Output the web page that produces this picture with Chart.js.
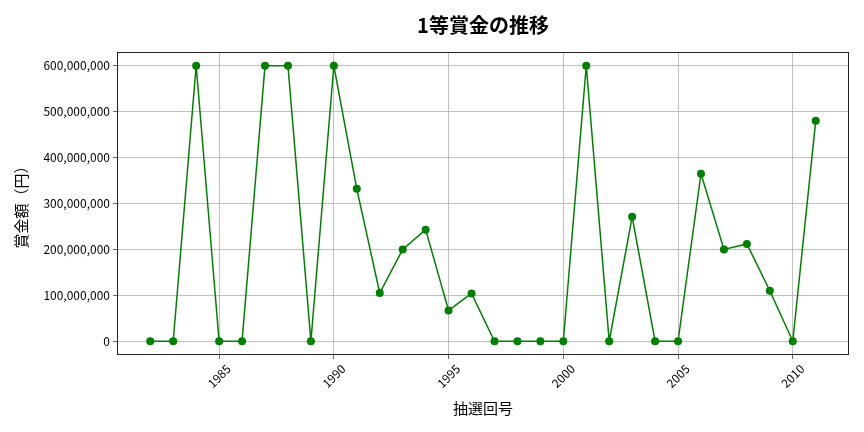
<!DOCTYPE html>
<html>
<head>
<meta charset="utf-8">
<script src="https://cdn.jsdelivr.net/npm/chart.js@4.4.0/dist/chart.umd.min.js"></script>
<style>
  html, body { margin: 0; padding: 0; background: #fff; }
  #wrap { width: 864px; height: 432px; }
</style>
</head>
<body>
<div id="wrap"><canvas id="chart" width="864" height="432"></canvas></div>
<script>
// draw numbers (year of draw) and first prize amount in yen
const years = [1982, 1983, 1984, 1985, 1986, 1987, 1988, 1989, 1990, 1991,
  1992, 1993, 1994, 1995, 1996, 1997, 1998, 1999, 2000, 2001,
  2002, 2003, 2004, 2005, 2006, 2007, 2008, 2009, 2010, 2011];
const prizes = [0, 0, 600000000, 0, 0, 600000000, 600000000, 0, 600000000, 332000000,
  105000000, 200000000, 243000000, 67000000, 104000000, 0, 0, 0, 0, 600000000,
  0, 271000000, 0, 0, 365000000, 200000000, 212000000, 110000000, 0, 480000000];
const xTicks = [1985, 1990, 1995, 2000, 2005, 2010];
const yTicks = [0, 100000000, 200000000, 300000000, 400000000, 500000000, 600000000];

const FONT = "'Noto Sans CJK JP', 'Noto Sans', sans-serif";

// title, axis titles, rotated x labels (centred like matplotlib), frame
const extras = {
  id: 'extras',
  afterDraw(chart) {
    const ctx = chart.ctx;
    const a = chart.chartArea;
    const xs = chart.scales.x;
    ctx.save();
    ctx.strokeStyle = '#222';
    ctx.lineWidth = 1;
    ctx.strokeRect(a.left + 0.5, a.top + 0.5, a.right - a.left - 1, a.bottom - a.top - 1);
    ctx.fillStyle = '#000';
    ctx.textAlign = 'center';
    ctx.textBaseline = 'middle';

    ctx.font = 'bold 20px ' + FONT;
    ctx.fillText('1等賞金の推移', (a.left + a.right) / 2, 25);

    ctx.font = '12px ' + FONT;
    xTicks.forEach(v => {
      ctx.save();
      ctx.translate(xs.getPixelForValue(v), a.bottom + 21);
      ctx.rotate(-Math.PI / 4);
      ctx.fillText(String(v), 0, 0);
      ctx.restore();
    });

    ctx.font = '15px ' + FONT;
    ctx.fillText('抽選回号', (a.left + a.right) / 2, 408);

    ctx.save();
    ctx.translate(21, (a.top + a.bottom) / 2);
    ctx.rotate(-Math.PI / 2);
    ctx.fillText('賞金額（円）', 0, 0);
    ctx.restore();
    ctx.restore();
  }
};

new Chart(document.getElementById('chart'), {
  type: 'line',
  data: {
    datasets: [{
      data: years.map((y, i) => ({ x: y, y: prizes[i] })),
      borderColor: '#008000',
      backgroundColor: '#008000',
      borderWidth: 1.5,
      pointRadius: 4,
      pointBackgroundColor: '#008000',
      pointBorderWidth: 0,
      tension: 0
    }]
  },
  options: {
    responsive: false,
    animation: false,
    layout: { padding: { top: 52, right: 15, left: 0, bottom: 0 } },
    plugins: { legend: { display: false }, tooltip: { enabled: false } },
    scales: {
      x: {
        type: 'linear',
        min: 1980.55,
        max: 2012.45,
        afterBuildTicks: s => { s.ticks = xTicks.map(v => ({ value: v })); },
        afterFit: s => { s.height = 77; },
        ticks: { display: false },
        grid: { color: '#b0b0b0', lineWidth: 0.8, tickColor: '#444', tickLength: 4 },
        border: { display: false }
      },
      y: {
        min: -30000000,
        max: 630000000,
        afterBuildTicks: s => { s.ticks = yTicks.map(v => ({ value: v })); },
        afterFit: s => { s.width = 117; },
        ticks: {
          color: '#000',
          font: { family: FONT, size: 12 },
          padding: 3,
          callback: v => v.toLocaleString('en-US')
        },
        grid: { color: '#b0b0b0', lineWidth: 0.8, tickColor: '#444', tickLength: 4 },
        border: { display: false }
      }
    }
  },
  plugins: [extras]
});
</script>
</body>
</html>
